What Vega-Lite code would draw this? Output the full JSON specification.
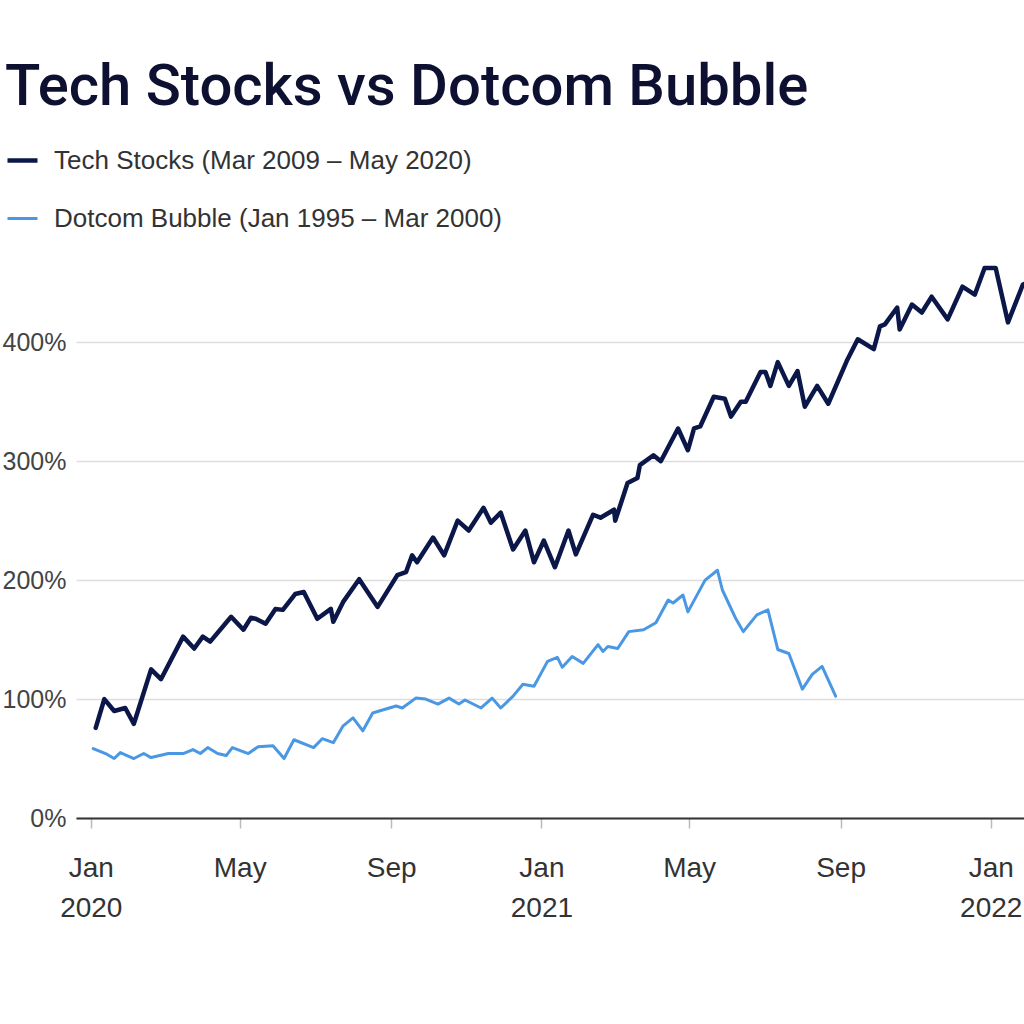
{
  "$schema": "https://vega.github.io/schema/vega-lite/v6.json",
  "autosize": {"type": "none"},
  "width": 948,
  "height": 559,
  "padding": {"left": 76, "top": 259, "right": 0, "bottom": 206},
  "background": "white",
  "title": {
    "text": "Tech Stocks vs Dotcom Bubble",
    "anchor": "start",
    "frame": "group",
    "dx": -71,
    "offset": -32,
    "baseline": "bottom",
    "font": "Roboto",
    "fontSize": 58,
    "fontWeight": 500,
    "color": "#0d1030"
  },
  "config": {
    "view": {"stroke": null},
    "axis": {"labelFont": "Liberation Sans", "labelColor": "#333"}
  },
  "data": {
    "values": [
      {"date": "2020-01-05", "pct": 75.8, "series": "Tech Stocks (Mar 2009 – May 2020)"},
      {"date": "2020-01-12", "pct": 100, "series": "Tech Stocks (Mar 2009 – May 2020)"},
      {"date": "2020-01-20", "pct": 90, "series": "Tech Stocks (Mar 2009 – May 2020)"},
      {"date": "2020-01-29", "pct": 92.5, "series": "Tech Stocks (Mar 2009 – May 2020)"},
      {"date": "2020-02-05", "pct": 79.2, "series": "Tech Stocks (Mar 2009 – May 2020)"},
      {"date": "2020-02-19", "pct": 125, "series": "Tech Stocks (Mar 2009 – May 2020)"},
      {"date": "2020-02-27", "pct": 116.7, "series": "Tech Stocks (Mar 2009 – May 2020)"},
      {"date": "2020-03-16", "pct": 152.5, "series": "Tech Stocks (Mar 2009 – May 2020)"},
      {"date": "2020-03-25", "pct": 142.5, "series": "Tech Stocks (Mar 2009 – May 2020)"},
      {"date": "2020-04-01", "pct": 152.5, "series": "Tech Stocks (Mar 2009 – May 2020)"},
      {"date": "2020-04-07", "pct": 148.3, "series": "Tech Stocks (Mar 2009 – May 2020)"},
      {"date": "2020-04-24", "pct": 169.2, "series": "Tech Stocks (Mar 2009 – May 2020)"},
      {"date": "2020-05-04", "pct": 158.3, "series": "Tech Stocks (Mar 2009 – May 2020)"},
      {"date": "2020-05-10", "pct": 168.3, "series": "Tech Stocks (Mar 2009 – May 2020)"},
      {"date": "2020-05-14", "pct": 167.5, "series": "Tech Stocks (Mar 2009 – May 2020)"},
      {"date": "2020-05-22", "pct": 163.3, "series": "Tech Stocks (Mar 2009 – May 2020)"},
      {"date": "2020-05-30", "pct": 175.8, "series": "Tech Stocks (Mar 2009 – May 2020)"},
      {"date": "2020-06-05", "pct": 175, "series": "Tech Stocks (Mar 2009 – May 2020)"},
      {"date": "2020-06-15", "pct": 188.3, "series": "Tech Stocks (Mar 2009 – May 2020)"},
      {"date": "2020-06-22", "pct": 190, "series": "Tech Stocks (Mar 2009 – May 2020)"},
      {"date": "2020-07-03", "pct": 167.5, "series": "Tech Stocks (Mar 2009 – May 2020)"},
      {"date": "2020-07-14", "pct": 175.8, "series": "Tech Stocks (Mar 2009 – May 2020)"},
      {"date": "2020-07-16", "pct": 165, "series": "Tech Stocks (Mar 2009 – May 2020)"},
      {"date": "2020-07-24", "pct": 181.7, "series": "Tech Stocks (Mar 2009 – May 2020)"},
      {"date": "2020-08-06", "pct": 200.8, "series": "Tech Stocks (Mar 2009 – May 2020)"},
      {"date": "2020-08-21", "pct": 177.5, "series": "Tech Stocks (Mar 2009 – May 2020)"},
      {"date": "2020-09-06", "pct": 204.2, "series": "Tech Stocks (Mar 2009 – May 2020)"},
      {"date": "2020-09-13", "pct": 206.7, "series": "Tech Stocks (Mar 2009 – May 2020)"},
      {"date": "2020-09-18", "pct": 220.8, "series": "Tech Stocks (Mar 2009 – May 2020)"},
      {"date": "2020-09-22", "pct": 215, "series": "Tech Stocks (Mar 2009 – May 2020)"},
      {"date": "2020-10-05", "pct": 235.8, "series": "Tech Stocks (Mar 2009 – May 2020)"},
      {"date": "2020-10-14", "pct": 220.8, "series": "Tech Stocks (Mar 2009 – May 2020)"},
      {"date": "2020-10-25", "pct": 250, "series": "Tech Stocks (Mar 2009 – May 2020)"},
      {"date": "2020-11-03", "pct": 241.7, "series": "Tech Stocks (Mar 2009 – May 2020)"},
      {"date": "2020-11-15", "pct": 260.8, "series": "Tech Stocks (Mar 2009 – May 2020)"},
      {"date": "2020-11-21", "pct": 248.3, "series": "Tech Stocks (Mar 2009 – May 2020)"},
      {"date": "2020-11-29", "pct": 256.7, "series": "Tech Stocks (Mar 2009 – May 2020)"},
      {"date": "2020-12-09", "pct": 225.8, "series": "Tech Stocks (Mar 2009 – May 2020)"},
      {"date": "2020-12-19", "pct": 241.7, "series": "Tech Stocks (Mar 2009 – May 2020)"},
      {"date": "2020-12-26", "pct": 215, "series": "Tech Stocks (Mar 2009 – May 2020)"},
      {"date": "2021-01-03", "pct": 233.3, "series": "Tech Stocks (Mar 2009 – May 2020)"},
      {"date": "2021-01-12", "pct": 210.8, "series": "Tech Stocks (Mar 2009 – May 2020)"},
      {"date": "2021-01-23", "pct": 241.7, "series": "Tech Stocks (Mar 2009 – May 2020)"},
      {"date": "2021-01-29", "pct": 221.7, "series": "Tech Stocks (Mar 2009 – May 2020)"},
      {"date": "2021-02-12", "pct": 255, "series": "Tech Stocks (Mar 2009 – May 2020)"},
      {"date": "2021-02-18", "pct": 252.5, "series": "Tech Stocks (Mar 2009 – May 2020)"},
      {"date": "2021-03-01", "pct": 259.2, "series": "Tech Stocks (Mar 2009 – May 2020)"},
      {"date": "2021-03-02", "pct": 250, "series": "Tech Stocks (Mar 2009 – May 2020)"},
      {"date": "2021-03-12", "pct": 281.7, "series": "Tech Stocks (Mar 2009 – May 2020)"},
      {"date": "2021-03-20", "pct": 285.8, "series": "Tech Stocks (Mar 2009 – May 2020)"},
      {"date": "2021-03-22", "pct": 296.7, "series": "Tech Stocks (Mar 2009 – May 2020)"},
      {"date": "2021-04-02", "pct": 305, "series": "Tech Stocks (Mar 2009 – May 2020)"},
      {"date": "2021-04-08", "pct": 300, "series": "Tech Stocks (Mar 2009 – May 2020)"},
      {"date": "2021-04-22", "pct": 327.5, "series": "Tech Stocks (Mar 2009 – May 2020)"},
      {"date": "2021-04-30", "pct": 309.2, "series": "Tech Stocks (Mar 2009 – May 2020)"},
      {"date": "2021-05-05", "pct": 327.5, "series": "Tech Stocks (Mar 2009 – May 2020)"},
      {"date": "2021-05-10", "pct": 329.2, "series": "Tech Stocks (Mar 2009 – May 2020)"},
      {"date": "2021-05-21", "pct": 354.2, "series": "Tech Stocks (Mar 2009 – May 2020)"},
      {"date": "2021-05-30", "pct": 352.5, "series": "Tech Stocks (Mar 2009 – May 2020)"},
      {"date": "2021-06-04", "pct": 337.5, "series": "Tech Stocks (Mar 2009 – May 2020)"},
      {"date": "2021-06-12", "pct": 350, "series": "Tech Stocks (Mar 2009 – May 2020)"},
      {"date": "2021-06-16", "pct": 350, "series": "Tech Stocks (Mar 2009 – May 2020)"},
      {"date": "2021-06-28", "pct": 375, "series": "Tech Stocks (Mar 2009 – May 2020)"},
      {"date": "2021-07-02", "pct": 375, "series": "Tech Stocks (Mar 2009 – May 2020)"},
      {"date": "2021-07-06", "pct": 363.3, "series": "Tech Stocks (Mar 2009 – May 2020)"},
      {"date": "2021-07-12", "pct": 383.3, "series": "Tech Stocks (Mar 2009 – May 2020)"},
      {"date": "2021-07-21", "pct": 363.3, "series": "Tech Stocks (Mar 2009 – May 2020)"},
      {"date": "2021-07-28", "pct": 375.8, "series": "Tech Stocks (Mar 2009 – May 2020)"},
      {"date": "2021-08-03", "pct": 345.8, "series": "Tech Stocks (Mar 2009 – May 2020)"},
      {"date": "2021-08-13", "pct": 363.3, "series": "Tech Stocks (Mar 2009 – May 2020)"},
      {"date": "2021-08-22", "pct": 348.3, "series": "Tech Stocks (Mar 2009 – May 2020)"},
      {"date": "2021-09-06", "pct": 384.2, "series": "Tech Stocks (Mar 2009 – May 2020)"},
      {"date": "2021-09-15", "pct": 402.5, "series": "Tech Stocks (Mar 2009 – May 2020)"},
      {"date": "2021-09-28", "pct": 394.2, "series": "Tech Stocks (Mar 2009 – May 2020)"},
      {"date": "2021-10-03", "pct": 413.3, "series": "Tech Stocks (Mar 2009 – May 2020)"},
      {"date": "2021-10-07", "pct": 415, "series": "Tech Stocks (Mar 2009 – May 2020)"},
      {"date": "2021-10-17", "pct": 429.2, "series": "Tech Stocks (Mar 2009 – May 2020)"},
      {"date": "2021-10-19", "pct": 410.8, "series": "Tech Stocks (Mar 2009 – May 2020)"},
      {"date": "2021-10-29", "pct": 431.7, "series": "Tech Stocks (Mar 2009 – May 2020)"},
      {"date": "2021-11-06", "pct": 425, "series": "Tech Stocks (Mar 2009 – May 2020)"},
      {"date": "2021-11-14", "pct": 438.3, "series": "Tech Stocks (Mar 2009 – May 2020)"},
      {"date": "2021-11-27", "pct": 419.2, "series": "Tech Stocks (Mar 2009 – May 2020)"},
      {"date": "2021-12-09", "pct": 446.7, "series": "Tech Stocks (Mar 2009 – May 2020)"},
      {"date": "2021-12-19", "pct": 440, "series": "Tech Stocks (Mar 2009 – May 2020)"},
      {"date": "2021-12-27", "pct": 462.5, "series": "Tech Stocks (Mar 2009 – May 2020)"},
      {"date": "2022-01-05", "pct": 462.5, "series": "Tech Stocks (Mar 2009 – May 2020)"},
      {"date": "2022-01-15", "pct": 416.7, "series": "Tech Stocks (Mar 2009 – May 2020)"},
      {"date": "2022-01-27", "pct": 448.3, "series": "Tech Stocks (Mar 2009 – May 2020)"},
      {"date": "2022-02-10", "pct": 456, "series": "Tech Stocks (Mar 2009 – May 2020)"},
      {"date": "2020-01-03", "pct": 58.3, "series": "Dotcom Bubble (Jan 1995 – Mar 2000)"},
      {"date": "2020-01-13", "pct": 54.2, "series": "Dotcom Bubble (Jan 1995 – Mar 2000)"},
      {"date": "2020-01-20", "pct": 50, "series": "Dotcom Bubble (Jan 1995 – Mar 2000)"},
      {"date": "2020-01-25", "pct": 55, "series": "Dotcom Bubble (Jan 1995 – Mar 2000)"},
      {"date": "2020-02-05", "pct": 50, "series": "Dotcom Bubble (Jan 1995 – Mar 2000)"},
      {"date": "2020-02-13", "pct": 54.2, "series": "Dotcom Bubble (Jan 1995 – Mar 2000)"},
      {"date": "2020-02-19", "pct": 50.8, "series": "Dotcom Bubble (Jan 1995 – Mar 2000)"},
      {"date": "2020-03-04", "pct": 54.2, "series": "Dotcom Bubble (Jan 1995 – Mar 2000)"},
      {"date": "2020-03-16", "pct": 54.2, "series": "Dotcom Bubble (Jan 1995 – Mar 2000)"},
      {"date": "2020-03-24", "pct": 57.5, "series": "Dotcom Bubble (Jan 1995 – Mar 2000)"},
      {"date": "2020-03-30", "pct": 54.2, "series": "Dotcom Bubble (Jan 1995 – Mar 2000)"},
      {"date": "2020-04-05", "pct": 59.2, "series": "Dotcom Bubble (Jan 1995 – Mar 2000)"},
      {"date": "2020-04-13", "pct": 54.2, "series": "Dotcom Bubble (Jan 1995 – Mar 2000)"},
      {"date": "2020-04-20", "pct": 52.5, "series": "Dotcom Bubble (Jan 1995 – Mar 2000)"},
      {"date": "2020-04-25", "pct": 59.2, "series": "Dotcom Bubble (Jan 1995 – Mar 2000)"},
      {"date": "2020-05-08", "pct": 54.2, "series": "Dotcom Bubble (Jan 1995 – Mar 2000)"},
      {"date": "2020-05-16", "pct": 60, "series": "Dotcom Bubble (Jan 1995 – Mar 2000)"},
      {"date": "2020-05-28", "pct": 60.8, "series": "Dotcom Bubble (Jan 1995 – Mar 2000)"},
      {"date": "2020-06-06", "pct": 50, "series": "Dotcom Bubble (Jan 1995 – Mar 2000)"},
      {"date": "2020-06-14", "pct": 65.8, "series": "Dotcom Bubble (Jan 1995 – Mar 2000)"},
      {"date": "2020-06-30", "pct": 59.2, "series": "Dotcom Bubble (Jan 1995 – Mar 2000)"},
      {"date": "2020-07-07", "pct": 66.7, "series": "Dotcom Bubble (Jan 1995 – Mar 2000)"},
      {"date": "2020-07-16", "pct": 63.3, "series": "Dotcom Bubble (Jan 1995 – Mar 2000)"},
      {"date": "2020-07-24", "pct": 77.5, "series": "Dotcom Bubble (Jan 1995 – Mar 2000)"},
      {"date": "2020-08-01", "pct": 84.2, "series": "Dotcom Bubble (Jan 1995 – Mar 2000)"},
      {"date": "2020-08-09", "pct": 73.3, "series": "Dotcom Bubble (Jan 1995 – Mar 2000)"},
      {"date": "2020-08-17", "pct": 88.3, "series": "Dotcom Bubble (Jan 1995 – Mar 2000)"},
      {"date": "2020-08-25", "pct": 90.8, "series": "Dotcom Bubble (Jan 1995 – Mar 2000)"},
      {"date": "2020-09-05", "pct": 94.2, "series": "Dotcom Bubble (Jan 1995 – Mar 2000)"},
      {"date": "2020-09-10", "pct": 92.5, "series": "Dotcom Bubble (Jan 1995 – Mar 2000)"},
      {"date": "2020-09-21", "pct": 100.8, "series": "Dotcom Bubble (Jan 1995 – Mar 2000)"},
      {"date": "2020-09-29", "pct": 100, "series": "Dotcom Bubble (Jan 1995 – Mar 2000)"},
      {"date": "2020-10-09", "pct": 95.8, "series": "Dotcom Bubble (Jan 1995 – Mar 2000)"},
      {"date": "2020-10-18", "pct": 100.8, "series": "Dotcom Bubble (Jan 1995 – Mar 2000)"},
      {"date": "2020-10-26", "pct": 95.8, "series": "Dotcom Bubble (Jan 1995 – Mar 2000)"},
      {"date": "2020-10-31", "pct": 99.2, "series": "Dotcom Bubble (Jan 1995 – Mar 2000)"},
      {"date": "2020-11-13", "pct": 92.5, "series": "Dotcom Bubble (Jan 1995 – Mar 2000)"},
      {"date": "2020-11-22", "pct": 100.8, "series": "Dotcom Bubble (Jan 1995 – Mar 2000)"},
      {"date": "2020-11-29", "pct": 92.5, "series": "Dotcom Bubble (Jan 1995 – Mar 2000)"},
      {"date": "2020-12-09", "pct": 102.5, "series": "Dotcom Bubble (Jan 1995 – Mar 2000)"},
      {"date": "2020-12-17", "pct": 112.5, "series": "Dotcom Bubble (Jan 1995 – Mar 2000)"},
      {"date": "2020-12-26", "pct": 110.8, "series": "Dotcom Bubble (Jan 1995 – Mar 2000)"},
      {"date": "2021-01-06", "pct": 131.7, "series": "Dotcom Bubble (Jan 1995 – Mar 2000)"},
      {"date": "2021-01-14", "pct": 135, "series": "Dotcom Bubble (Jan 1995 – Mar 2000)"},
      {"date": "2021-01-18", "pct": 126.7, "series": "Dotcom Bubble (Jan 1995 – Mar 2000)"},
      {"date": "2021-01-26", "pct": 135.8, "series": "Dotcom Bubble (Jan 1995 – Mar 2000)"},
      {"date": "2021-02-04", "pct": 130, "series": "Dotcom Bubble (Jan 1995 – Mar 2000)"},
      {"date": "2021-02-16", "pct": 145.8, "series": "Dotcom Bubble (Jan 1995 – Mar 2000)"},
      {"date": "2021-02-20", "pct": 140, "series": "Dotcom Bubble (Jan 1995 – Mar 2000)"},
      {"date": "2021-02-24", "pct": 144.2, "series": "Dotcom Bubble (Jan 1995 – Mar 2000)"},
      {"date": "2021-03-04", "pct": 142.5, "series": "Dotcom Bubble (Jan 1995 – Mar 2000)"},
      {"date": "2021-03-13", "pct": 156.7, "series": "Dotcom Bubble (Jan 1995 – Mar 2000)"},
      {"date": "2021-03-25", "pct": 158.3, "series": "Dotcom Bubble (Jan 1995 – Mar 2000)"},
      {"date": "2021-04-04", "pct": 164.2, "series": "Dotcom Bubble (Jan 1995 – Mar 2000)"},
      {"date": "2021-04-14", "pct": 183.3, "series": "Dotcom Bubble (Jan 1995 – Mar 2000)"},
      {"date": "2021-04-18", "pct": 180.8, "series": "Dotcom Bubble (Jan 1995 – Mar 2000)"},
      {"date": "2021-04-26", "pct": 187.5, "series": "Dotcom Bubble (Jan 1995 – Mar 2000)"},
      {"date": "2021-04-30", "pct": 173.3, "series": "Dotcom Bubble (Jan 1995 – Mar 2000)"},
      {"date": "2021-05-14", "pct": 200, "series": "Dotcom Bubble (Jan 1995 – Mar 2000)"},
      {"date": "2021-05-24", "pct": 208.3, "series": "Dotcom Bubble (Jan 1995 – Mar 2000)"},
      {"date": "2021-05-28", "pct": 191.7, "series": "Dotcom Bubble (Jan 1995 – Mar 2000)"},
      {"date": "2021-06-08", "pct": 167.5, "series": "Dotcom Bubble (Jan 1995 – Mar 2000)"},
      {"date": "2021-06-14", "pct": 156.7, "series": "Dotcom Bubble (Jan 1995 – Mar 2000)"},
      {"date": "2021-06-25", "pct": 170.8, "series": "Dotcom Bubble (Jan 1995 – Mar 2000)"},
      {"date": "2021-07-04", "pct": 175, "series": "Dotcom Bubble (Jan 1995 – Mar 2000)"},
      {"date": "2021-07-12", "pct": 141.7, "series": "Dotcom Bubble (Jan 1995 – Mar 2000)"},
      {"date": "2021-07-21", "pct": 138.3, "series": "Dotcom Bubble (Jan 1995 – Mar 2000)"},
      {"date": "2021-08-01", "pct": 108.3, "series": "Dotcom Bubble (Jan 1995 – Mar 2000)"},
      {"date": "2021-08-09", "pct": 120.8, "series": "Dotcom Bubble (Jan 1995 – Mar 2000)"},
      {"date": "2021-08-17", "pct": 127.5, "series": "Dotcom Bubble (Jan 1995 – Mar 2000)"},
      {"date": "2021-08-28", "pct": 102.5, "series": "Dotcom Bubble (Jan 1995 – Mar 2000)"}
    ]
  },
  "mark": {"type": "line", "clip": true, "strokeJoin": "round", "strokeCap": "round"},
  "encoding": {
    "x": {
      "field": "date",
      "type": "temporal",
      "scale": {"domain": ["2019-12-20", "2022-01-28"]},
      "axis": {
        "title": null,
        "grid": false,
        "tickCount": {"interval": "month", "step": 4},
        "labelExpr": "month(datum.value) == 0 ? [timeFormat(datum.value, '%b'), timeFormat(datum.value, '%Y')] : timeFormat(datum.value, '%b')",
        "labelFontSize": 28,
        "labelLineHeight": 40,
        "labelPadding": 26,
        "labelFlush": false,
        "labelOverlap": false,
        "domainColor": "#333",
        "domainWidth": 2,
        "tickColor": "#bbb",
        "tickSize": 10,
        "tickWidth": 1.5
      }
    },
    "y": {
      "field": "pct",
      "type": "quantitative",
      "scale": {"domain": [0, 470], "nice": false},
      "axis": {
        "title": null,
        "values": [0, 100, 200, 300, 400],
        "labelExpr": "datum.value + '%'",
        "labelFontSize": 25,
        "labelPadding": 10,
        "domain": false,
        "ticks": false,
        "gridColor": "#dddddd",
        "gridWidth": 1.5,
        "labelColor": "#444"
      }
    },
    "color": {
      "field": "series",
      "type": "nominal",
      "sort": null,
      "scale": {
        "domain": ["Tech Stocks (Mar 2009 – May 2020)", "Dotcom Bubble (Jan 1995 – Mar 2000)"],
        "range": ["#0b1748", "#4a98e3"]
      },
      "legend": {
        "title": null,
        "orient": "none",
        "legendX": -71,
        "legendY": -116,
        "direction": "vertical",
        "symbolType": "stroke",
        "symbolSize": 900,
        "symbolStrokeWidth": 4,
        "labelFontSize": 26,
        "labelFont": "Liberation Sans",
        "labelColor": "#333",
        "labelLimit": 800,
        "rowPadding": 28,
        "labelOffset": 14
      }
    },
    "strokeWidth": {
      "field": "series",
      "type": "nominal",
      "scale": {
        "domain": ["Tech Stocks (Mar 2009 – May 2020)", "Dotcom Bubble (Jan 1995 – Mar 2000)"],
        "range": [4.5, 3]
      },
      "legend": null
    }
  }
}
